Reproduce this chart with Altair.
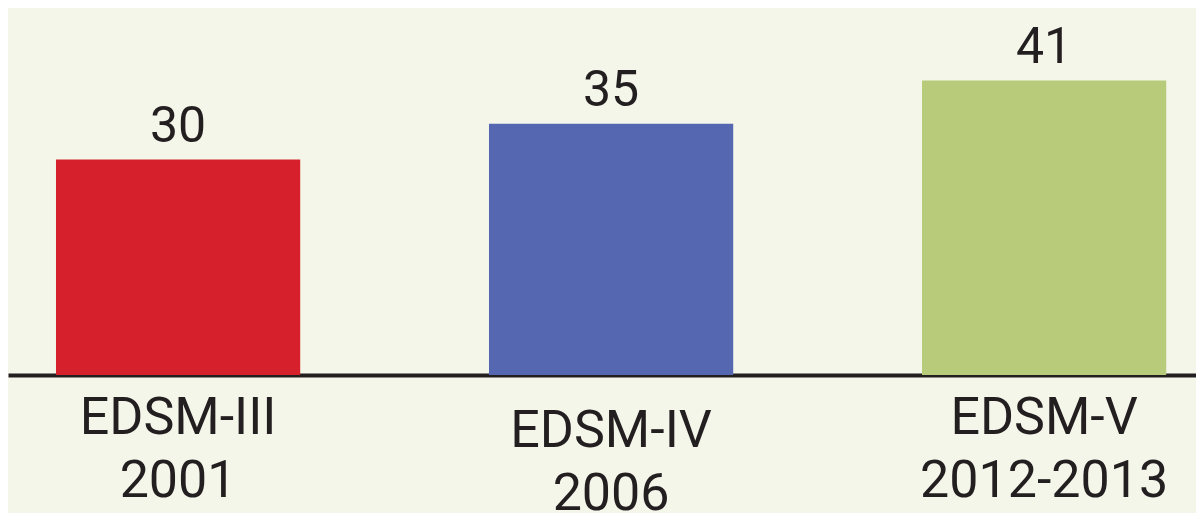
import altair as alt
import pandas as pd

surveys = ["EDSM-III", "EDSM-IV", "EDSM-V"]
years = ["2001", "2006", "2012-2013"]
values = [30, 35, 41]
colors = ["#d6202b", "#5467b0", "#b8cb7a"]

df = pd.DataFrame({
    "label": [f"{s}|{y}" for s, y in zip(surveys, years)],
    "value": values,
})
order = list(df["label"])

x = alt.X(
    "label:N",
    sort=order,
    title=None,
    scale=alt.Scale(paddingInner=0.436, paddingOuter=0.0898, align=0.617),
    axis=alt.Axis(
        labelExpr="split(datum.label, '|')",
        labelAngle=0,
        labelFont="Roboto",
        labelFontSize=52,
        labelLineHeight=63,
        labelColor="#231f20",
        labelBaseline="top",
        labelLimit=600,
        labelPadding={"condition": {"test": "indexof(datum.label, 'EDSM-IV') >= 0", "value": 30}, "value": 17},
        ticks=False,
        tickSize=0,
        domainColor="#231f20",
        domainWidth=4,
        grid=False,
        labelOverlap=False,
    ),
)
y = alt.Y("value:Q", scale=alt.Scale(domain=[0, 51.1]), axis=None)

bars = alt.Chart(df).mark_bar().encode(
    x=x, y=y,
    color=alt.Color("label:N", sort=order, scale=alt.Scale(domain=order, range=colors), legend=None),
)
texts = alt.Chart(df).mark_text(
    baseline="alphabetic", dy=-18, font="Roboto", fontSize=50, color="#231f20"
).encode(x=x, y=y, text="value:Q")

chart = (bars + texts).properties(
    width=1188, height=367,
    padding={"left": 0, "top": 0, "right": 0, "bottom": 138},
    autosize=alt.AutoSizeParams(type="none"),
    background="#f4f6ea",
).configure_view(stroke=None)

chart.save("out.html", embed_options={"renderer": "svg", "actions": False})
